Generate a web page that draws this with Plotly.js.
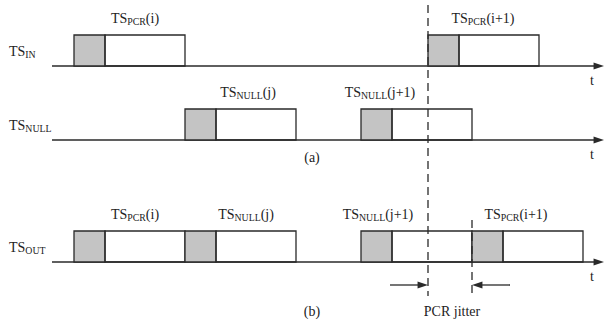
<!DOCTYPE html>
<html>
<head>
<meta charset="utf-8">
<script src="https://cdn.plot.ly/plotly-3.0.1.min.js"></script>
<style>html,body{margin:0;padding:0;background:#fff;}#chart{width:608px;height:323px;}</style>
</head>
<body>
<div id="chart"></div>
<script>
// Timeline rows (baseline level on vertical scale)
var rowNames = ["TS<sub>IN</sub>", "TS<sub>NULL</sub>", "TS<sub>OUT</sub>"];
var rowBase = [66, 140, 262];
// Packets: row index, start time, label
var pktRow = [0, 0, 1, 1, 2, 2, 2, 2];
var pktStart = [74, 428, 185, 361, 74, 185, 361, 472];
var pktLabel = ["TS<sub>PCR</sub>(i)", "TS<sub>PCR</sub>(i+1)", "TS<sub>NULL</sub>(j)", "TS<sub>NULL</sub>(j+1)",
                "TS<sub>PCR</sub>(i)", "TS<sub>NULL</sub>(j)", "TS<sub>NULL</sub>(j+1)", "TS<sub>PCR</sub>(i+1)"];
var pktLen = 111;
var hdrLen = 31;
// Jitter markers
var jitterFrom = 428, jitterTo = 472;
var subLabels = ["(a)", "(b)"];
var jitterLabel = "PCR jitter";

// layout-only settings
var pktHeight = 31;
var axisStart = 52, axisEnd = 604;
var labelShift = [61, 55, 63, 19, 61, 61, 17, 44];

var lineCol = "#2a2a2a";
var shapes = [];
var font = {family: "Liberation Serif", size: 14, color: "#222"};

var tx = [], ty = [], tt = [], tAnchor = [];
var ax = [], ay = [], aAng = [];

for (var r = 0; r < rowBase.length; r++) {
  shapes.push({type: "line", xref: "x", yref: "y", x0: axisStart, x1: axisEnd - 6, y0: rowBase[r], y1: rowBase[r],
    line: {color: lineCol, width: 1.4}});
  ax.push(axisEnd); ay.push(rowBase[r]); aAng.push(90);
  tx.push(9); ty.push(rowBase[r] - 14); tt.push(rowNames[r]); tAnchor.push("middle right");
  tx.push(592); ty.push(rowBase[r] + 15); tt.push("t"); tAnchor.push("middle center");
}
for (var i = 0; i < pktStart.length; i++) {
  var b = rowBase[pktRow[i]], s = pktStart[i];
  shapes.push({type: "rect", xref: "x", yref: "y", x0: s, x1: s + hdrLen, y0: b, y1: b - pktHeight,
    fillcolor: "#c4c4c4", line: {color: lineCol, width: 1.3}});
  shapes.push({type: "rect", xref: "x", yref: "y", x0: s + hdrLen, x1: s + pktLen, y0: b, y1: b - pktHeight,
    fillcolor: "rgba(0,0,0,0)", line: {color: lineCol, width: 1.3}});
  tx.push(s + labelShift[i]); ty.push(b - pktHeight - 16); tt.push(pktLabel[i]); tAnchor.push("middle center");
}
shapes.push({type: "line", xref: "x", yref: "y", x0: jitterFrom, x1: jitterFrom, y0: 5, y1: 296,
  line: {color: lineCol, width: 1.3, dash: "8px,5px"}});
shapes.push({type: "line", xref: "x", yref: "y", x0: jitterTo, x1: jitterTo, y0: 220, y1: 296,
  line: {color: lineCol, width: 1.3, dash: "8px,5px"}});
shapes.push({type: "line", xref: "x", yref: "y", x0: jitterFrom - 38, x1: jitterFrom - 6, y0: 285, y1: 285,
  line: {color: lineCol, width: 1.3}});
shapes.push({type: "line", xref: "x", yref: "y", x0: jitterTo + 38, x1: jitterTo + 6, y0: 285, y1: 285,
  line: {color: lineCol, width: 1.3}});
ax.push(jitterFrom, jitterTo); ay.push(285, 285); aAng.push(90, -90);

tx.push(452); ty.push(312); tt.push(jitterLabel); tAnchor.push("middle center");
tx.push(312); ty.push(158); tt.push(subLabels[0]); tAnchor.push("middle center");
tx.push(312); ty.push(312); tt.push(subLabels[1]); tAnchor.push("middle center");

var traces = [
  {type: "scatter", mode: "markers", x: ax, y: ay, hoverinfo: "skip",
   marker: {symbol: "arrow", size: 11, angle: aAng, color: lineCol, line: {width: 0}}},
  {type: "scatter", mode: "text", x: tx, y: ty, text: tt, textposition: tAnchor, textfont: font, hoverinfo: "skip"}
];

var layout = {
  width: 608, height: 323, margin: {l: 0, r: 0, t: 0, b: 0},
  paper_bgcolor: "#fff", plot_bgcolor: "#fff",
  xaxis: {range: [0, 608], visible: false, fixedrange: true},
  yaxis: {range: [323, 0], visible: false, fixedrange: true},
  shapes: shapes, showlegend: false
};
Plotly.newPlot("chart", traces, layout, {staticPlot: true});
</script>
</body>
</html>
